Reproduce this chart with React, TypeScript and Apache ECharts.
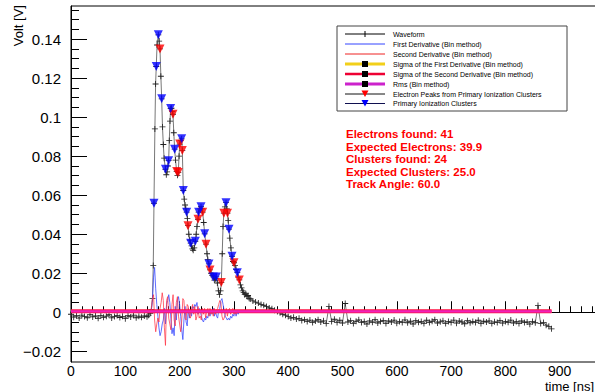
import React, { useEffect, useRef } from "react";
import * as echarts from "echarts";

// ---------- data ----------
const xTickValues = [0, 100, 200, 300, 400, 500, 600, 700, 800, 900];
const yTickValues = [-0.02, 0, 0.02, 0.04, 0.06, 0.08, 0.1, 0.12, 0.14];
const yMinorValues = [
  -0.02, -0.015, -0.01, -0.005, 0, 0.005, 0.01, 0.015, 0.02, 0.025, 0.03, 0.035, 0.04, 0.045,
  0.05, 0.055, 0.06, 0.065, 0.07, 0.075, 0.08, 0.085, 0.09, 0.095, 0.1, 0.105, 0.11, 0.115,
  0.12, 0.125, 0.13, 0.135, 0.14, 0.145, 0.15, 0.155,
];

// waveform before the pulse: t = 0, 5, ... 140 ns
const preStart = 0;
const preStep = 5;
const preVolt = [
  -0.001, -0.0025, -0.0018, -0.003, -0.0015, -0.0022, -0.0028, -0.0012, -0.0024, -0.0019,
  -0.0031, -0.0016, -0.0026, -0.002, -0.0013, -0.0029, -0.0022, -0.0017, -0.0027, -0.0021,
  -0.0033, -0.0018, -0.0024, -0.0015, -0.0028, -0.002, -0.0026, -0.0019, -0.0023,
];

// waveform in the pulse region [time ns, volt]
const pulsePoints = [
  [143, -0.0015], [146, -0.0005], [148, 0.0015], [150, 0.007], [151.5, 0.024], [152.8, 0.0559],
  [154.5, 0.094], [155.8, 0.117], [157, 0.126], [158.5, 0.137], [160.8, 0.1422], [162.3, 0.139],
  [163.9, 0.135], [165.5, 0.121], [167, 0.1094], [168.5, 0.095], [170, 0.086], [171.5, 0.079],
  [173.9, 0.0733], [175.5, 0.0705], [177, 0.072], [178.5, 0.075], [179.8, 0.0777], [181, 0.088],
  [182.3, 0.098], [183.5, 0.1044], [185, 0.1046], [186.5, 0.103], [187.8, 0.1015], [189.3, 0.092],
  [190.9, 0.0836], [192.5, 0.078], [194.6, 0.0721], [196, 0.0702], [197.6, 0.0716], [199, 0.08],
  [200.2, 0.0862], [202, 0.088], [203.8, 0.0889], [205, 0.0829], [206.8, 0.0624], [208.5, 0.058],
  [210, 0.055], [211.5, 0.053], [213, 0.0513], [214.3, 0.048], [215.5, 0.0444], [217, 0.04],
  [218.8, 0.037], [220.4, 0.0354], [222, 0.034], [223.5, 0.0325], [225, 0.0318], [227, 0.033],
  [228.9, 0.0364], [230.5, 0.04], [232, 0.044], [233.9, 0.0477], [235, 0.0513], [237, 0.053],
  [239.4, 0.0541], [241, 0.053], [242.5, 0.0513], [244.4, 0.046], [246.2, 0.0402], [248.6, 0.0349],
  [250.5, 0.03], [252, 0.027], [254, 0.0248], [256, 0.0217], [258, 0.02], [260, 0.0188],
  [262, 0.0181], [264, 0.0165], [266, 0.0172], [267.6, 0.0181], [269.5, 0.015], [271.5, 0.011],
  [273.5, 0.009], [275.5, 0.011], [276.8, 0.0152], [278.5, 0.03], [280, 0.044], [281.5, 0.0508],
  [283.5, 0.054], [285.5, 0.0562], [287, 0.053], [288.2, 0.0508], [289.5, 0.047], [291, 0.0426],
  [292.5, 0.038], [294.5, 0.033], [296.5, 0.0287], [298.5, 0.026], [300.2, 0.0254], [302, 0.024],
  [304, 0.022], [306.3, 0.0203], [308, 0.018], [310, 0.0166], [312, 0.014], [314, 0.0125],
  [316, 0.011], [318, 0.0102], [320, 0.009], [322, 0.0095], [324, 0.0082], [326, 0.0086],
  [328, 0.0072], [330, 0.0068],
];

// waveform after the pulse: t = 335, 340, ... 885 ns
const tailStart = 335;
const tailStep = 5;
const tailVolt = [
  0.0058, 0.0052, 0.0047, 0.004, 0.0036, 0.003, 0.0022, 0.0018, 0.001, 0.0004,
  -0.0003, -0.001, -0.0015, -0.0022, -0.003, -0.0026, -0.0035, -0.0031, -0.0042, -0.0038,
  -0.0047, -0.004, -0.0052, -0.0045, -0.0038, -0.005, -0.0044, -0.0058, 0.003, -0.0048,
  -0.0036, -0.0052, -0.0041, -0.0055, 0.0045, -0.005, -0.0043, -0.0057, -0.0046, -0.0039,
  -0.0052, -0.0047, -0.006, -0.0044, -0.0051, -0.0038, -0.0055, -0.0048, -0.0042, -0.0058,
  -0.0045, -0.005, -0.004, -0.0056, -0.0047, -0.0052, -0.0039, -0.0054, -0.0046, -0.006,
  -0.0043, -0.0051, -0.0048, -0.0057, -0.0041, -0.0053, -0.0046, -0.0038, -0.0055, -0.0049,
  -0.0044, -0.0058, -0.0047, -0.0052, -0.004, -0.0056, -0.0045, -0.005, -0.0059, -0.0043,
  -0.0054, -0.0048, -0.0052, -0.0041, -0.0057, -0.0046, -0.005, -0.0044, -0.0058, -0.0049,
  -0.0053, -0.0042, -0.0056, -0.0047, -0.0051, -0.004, -0.0055, -0.0048, -0.0058, -0.0045,
  -0.0052, -0.005, -0.0061, -0.0047, -0.0054, 0.0035, -0.0058, -0.0052, -0.0066, -0.0072,
  -0.0085,
];

// derivatives: t = 146, 148, ... 312 ns
const derivStart = 146;
const derivStep = 2;
const firstDeriv = [
  0.0, 0.001, 0.006, 0.018, 0.023, 0.012, 0.004, -0.002, -0.008, -0.012,
  -0.01, -0.006, -0.004, 0.002, -0.006, 0.004, 0.006, 0.009, 0.005, -0.003,
  -0.011, -0.008, -0.012, 0.003, -0.004, 0.006, 0.008, 0.004, -0.002, -0.009,
  -0.014, -0.004, 0.003, -0.005, -0.007, 0.002, -0.003, 0.001, -0.002, 0.003,
  0.002, 0.004, 0.003, 0.005, -0.001, 0.002, 0.001, -0.002, -0.004, -0.005,
  -0.003, -0.004, -0.002, -0.003, 0.001, -0.002, 0.001, -0.001, 0.002, -0.002,
  0.001, -0.002, -0.003, 0.001, 0.002, 0.006, 0.007, 0.004, 0.001, -0.002,
  -0.003, -0.004, -0.003, -0.004, -0.002, -0.003, -0.001, -0.002, 0.001, -0.002,
  0.0, -0.001, 0.001, 0.0,
];
const secondDeriv = [
  0.0, 0.002, 0.007, 0.009, -0.004, -0.01, -0.006, -0.003, -0.005, 0.002,
  0.005, 0.01, 0.006, -0.008, -0.017, 0.006, 0.008, -0.003, -0.006, -0.009,
  0.004, 0.009, -0.004, -0.007, 0.005, 0.008, -0.002, -0.006, -0.01, -0.004,
  0.007, 0.006, -0.003, -0.004, 0.004, 0.003, -0.002, -0.003, 0.002, 0.004,
  -0.001, 0.003, -0.004, -0.002, 0.003, -0.003, -0.002, -0.004, 0.002, -0.001,
  0.002, -0.003, 0.001, 0.002, -0.002, 0.002, -0.001, 0.001, -0.002, 0.002,
  -0.001, 0.001, 0.002, 0.004, 0.006, 0.005, -0.002, -0.004, -0.003, -0.001,
  0.002, -0.002, 0.001, 0.002, -0.001, 0.001, 0.002, -0.001, 0.001, -0.001,
  0.001, 0.0, 0.001, 0.0,
];

// flat threshold lines [time, volt]
const sigmaFirstLine = [[0, 0.0004], [885, 0.0004]];
const sigmaSecondLine = [[0, 0.0005], [885, 0.0005]];
const rmsLine = [[0, 0.0005], [885, 0.0005]];

// peaks found
const clusterPeaks = [
  [152.8, 0.0559], [157, 0.126], [160.8, 0.1422], [167, 0.1094], [173.9, 0.0733], [179.8, 0.0777],
  [183.5, 0.1044], [190.9, 0.0836], [203.8, 0.0889], [206.8, 0.0624], [213, 0.0513], [220.4, 0.0354],
  [228.9, 0.0364], [235, 0.0513], [239.4, 0.0541], [246.2, 0.0402], [254, 0.0248], [262, 0.0181],
  [267.6, 0.0181], [285.5, 0.0562], [291, 0.0426], [296.5, 0.0287], [306.3, 0.0203],
];
const electronPeaks = [
  [163.9, 0.135], [187.8, 0.1015], [194.6, 0.0721], [197.6, 0.0716], [200.2, 0.0862], [205, 0.0829],
  [215.5, 0.0444], [233.9, 0.0477], [242.5, 0.0513], [248.6, 0.0349], [256, 0.0217], [276.8, 0.0152],
  [281.5, 0.0508], [288.2, 0.0508], [300.2, 0.0254], [310, 0.0166],
];

const legendLabels = [
  "Waveform",
  "First Derivative (Bin method)",
  "Second Derivative (Bin method)",
  "Sigma of the First Derivative (Bin method)",
  "Sigma of the Second Derivative (Bin method)",
  "Rms (Bin method)",
  "Electron Peaks from Primary Ionization Clusters",
  "Primary Ionization Clusters",
];

const infoLines = [
  "Electrons found: 41",
  "Expected Electrons: 39.9",
  "Clusters found: 24",
  "Expected Clusters: 25.0",
  "Track Angle: 60.0",
];

const FONT = "'Liberation Sans', Arial, Helvetica, sans-serif";
const PLUS = "path://M0,4.3H10V5.7H0Z M4.3,0H5.7V10H4.3Z";

function buildLegend() {
  const els: any[] = [];
  const bx = 337, by = 26, bw = 230, bh = 85;
  els.push({ type: "rect", shape: { x: bx, y: by, width: bw, height: bh }, style: { fill: "#fff", stroke: "#444", lineWidth: 1 }, z: 100 });
  const rowY = [34, 44, 54, 64, 74, 84, 94, 103.5];
  const lx1 = 345, lx2 = 385, cx = 365;
  const lineColors = ["#000", "#3344ff", "#ee2222", "#f2cf1a", "#ee0033", "#cc22cc", "#111", "#101050"];
  const lineWidths = [1, 1, 1, 3, 2.5, 3, 1, 1];
  legendLabels.forEach((lab, i) => {
    const y = rowY[i];
    els.push({ type: "line", shape: { x1: lx1, y1: y, x2: lx2, y2: y }, style: { stroke: lineColors[i], lineWidth: lineWidths[i] }, z: 101 });
    if (i === 0) {
      els.push({ type: "line", shape: { x1: cx, y1: y - 3, x2: cx, y2: y + 3 }, style: { stroke: "#000", lineWidth: 1 }, z: 102 });
    }
    if (i >= 3 && i <= 5) {
      els.push({ type: "rect", shape: { x: cx - 3, y: y - 3, width: 6, height: 6 }, style: { fill: "#000" }, z: 102 });
    }
    if (i >= 6) {
      const col = i === 6 ? "#ff0000" : "#0000ff";
      els.push({ type: "polygon", shape: { points: [[cx - 3.5, y - 3.5], [cx + 3.5, y - 3.5], [cx, y + 3]] }, style: { fill: col }, z: 102 });
    }
    els.push({ type: "text", x: 393, y, style: { text: lab, fill: "#000", font: `7px ${FONT}`, align: "left", verticalAlign: "middle" }, z: 102 });
  });
  return els;
}

function buildInfo() {
  const ys = [134, 146.5, 159, 171.5, 184];
  return infoLines.map((t, i) => ({
    type: "text",
    x: 346,
    y: ys[i],
    style: { text: t, fill: "#ff0000", font: `bold 11.5px ${FONT}`, align: "left", verticalAlign: "middle" },
    z: 100,
  }));
}

export default function App() {
  const ref = useRef<HTMLDivElement>(null);
  useEffect(() => {
    if (!ref.current) return;
    const chart = echarts.init(ref.current, null, { renderer: "svg" });

    const waveform = [
      ...preVolt.map((v, i) => [preStart + i * preStep, v]),
      ...pulsePoints,
      ...tailVolt.map((v, i) => [tailStart + i * tailStep, v]),
    ];
    const d1 = [[0, 0], ...firstDeriv.map((v, i) => [derivStart + i * derivStep, v]), [885, 0]];
    const d2 = [[0, 0], ...secondDeriv.map((v, i) => [derivStart + i * derivStep, v]), [885, 0]];

    const minus = (v: number) => String(v).replace("-", "\u2212");

    chart.setOption({
      animation: false,
      backgroundColor: "#fff",
      grid: {
        left: 71, top: 6, width: 543, height: 356, show: true, borderColor: "#000", borderWidth: 1,
        containLabel: false, outerBoundsMode: "none",
      },
      xAxis: {
        type: "value",
        min: 0,
        max: 1000,
        interval: 100,
        axisLine: { show: true, lineStyle: { color: "#000", width: 1 } },
        axisTick: { show: true, inside: true, length: 11, lineStyle: { color: "#000" } },
        minorTick: { show: true, splitNumber: 5, length: 6, lineStyle: { color: "#000" } },
        axisLabel: {
          show: true, color: "#000", fontSize: 14, lineHeight: 13, fontFamily: FONT, margin: 2,
          customValues: xTickValues, formatter: (v: number) => String(v),
        },
        splitLine: { show: false },
      },
      yAxis: [
        {
          type: "value",
          min: -0.0255,
          max: 0.157,
          axisLine: { show: true, lineStyle: { color: "#000", width: 1 } },
          axisTick: { show: true, inside: true, length: 16, customValues: yTickValues, lineStyle: { color: "#000" } },
          axisLabel: { show: true, color: "#000", fontSize: 15, fontFamily: FONT, margin: 10, customValues: yTickValues, formatter: (v: number) => minus(v) },
          splitLine: { show: false },
        },
        {
          type: "value",
          min: -0.0255,
          max: 0.157,
          position: "left",
          offset: 0,
          axisLine: { show: false },
          axisTick: { show: true, inside: true, length: 8, customValues: yMinorValues, lineStyle: { color: "#000" } },
          axisLabel: { show: false },
          splitLine: { show: false },
        },
      ],
      graphic: [
        {
          type: "text",
          x: 18,
          y: 5,
          rotation: Math.PI / 2,
          style: { text: "Volt [V]", fill: "#000", font: `13px ${FONT}`, align: "right", verticalAlign: "middle" },
        },
        {
          type: "text",
          x: 594,
          y: 392,
          style: { text: "time [ns]", fill: "#000", font: `13px ${FONT}`, lineHeight: 12, align: "right", verticalAlign: "bottom" },
        },
        ...buildInfo(),
        ...buildLegend(),
      ],
      series: [
        {
          name: "Waveform",
          type: "line",
          data: waveform,
          symbol: PLUS,
          symbolSize: 6,
          showSymbol: true,
          itemStyle: { color: "#222" },
          lineStyle: { color: "#777", width: 1 },
          z: 2,
        },
        {
          name: "First Derivative (Bin method)",
          type: "line",
          data: d1,
          symbol: "none",
          lineStyle: { color: "#4455ff", width: 1, opacity: 0.85 },
          z: 3,
        },
        {
          name: "Second Derivative (Bin method)",
          type: "line",
          data: d2,
          symbol: "none",
          lineStyle: { color: "#ff3344", width: 1, opacity: 0.75 },
          z: 3,
        },
        {
          name: "Sigma of the First Derivative (Bin method)",
          type: "line",
          data: sigmaFirstLine,
          symbol: "none",
          lineStyle: { color: "#f2cf1a", width: 2 },
          z: 4,
        },
        {
          name: "Sigma of the Second Derivative (Bin method)",
          type: "line",
          data: sigmaSecondLine,
          symbol: "none",
          lineStyle: { color: "#ff1040", width: 4 },
          z: 4,
        },
        {
          name: "Rms (Bin method)",
          type: "line",
          data: rmsLine,
          symbol: "none",
          lineStyle: { color: "#ee22bb", width: 2.2 },
          z: 5,
        },
        {
          name: "Electron Peaks from Primary Ionization Clusters",
          type: "scatter",
          data: electronPeaks,
          symbol: "triangle",
          symbolRotate: 180,
          symbolSize: 9,
          itemStyle: { color: "#ff0000" },
          z: 6,
        },
        {
          name: "Primary Ionization Clusters",
          type: "scatter",
          data: clusterPeaks,
          symbol: "triangle",
          symbolRotate: 180,
          symbolSize: 9,
          itemStyle: { color: "#0000ff" },
          z: 7,
        },
      ],
    });
    return () => chart.dispose();
  }, []);
  return <div ref={ref} style={{ width: 595, height: 392, position: "absolute", left: 0, top: 0 }} />;
}
